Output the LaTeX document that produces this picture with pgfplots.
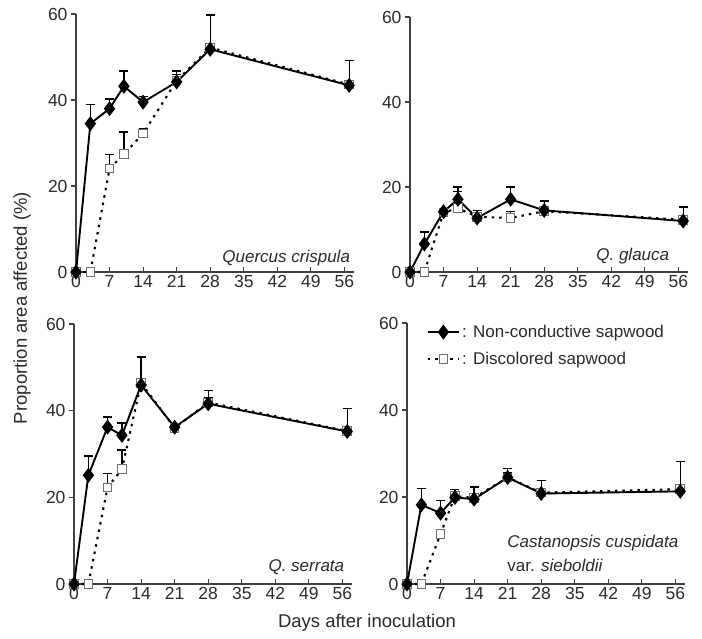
\documentclass[border=0pt]{standalone}
\usepackage{fontspec}
\setmainfont{Liberation Sans}
\usepackage{pgfplots}
\pgfplotsset{compat=1.18}
\usepackage{pgfplotstable}

\definecolor{txt}{HTML}{2A2A2A}
\definecolor{sqedge}{HTML}{6E6E6E}

% x = days, y = mean, e = upper error
\pgfplotstableread{
x y e
0 0 0
3 34.5 4.5
7 38.0 2.2
10 43.2 3.5
14 39.5 1.3
21 44.2 2.5
28 51.8 8.0
57 43.4 5.8
}\crispnon
\pgfplotstableread{
x y e
0 0 0
3 0 0
7 24.1 3.2
10 27.4 5.2
14 32.2 1.2
21 44.5 1.5
28 52.2 1.0
57 43.6 1.0
}\crispdis
\pgfplotstableread{
x y e
0 0 0
3 6.6 2.8
7 14.2 0.8
10 17.1 2.9
14 12.7 1.8
21 17.1 2.9
28 14.5 2.2
57 12.0 3.3
}\glaucanon
\pgfplotstableread{
x y e
0 0 0
3 0 0
7 14.0 0.8
10 15.0 3.9
14 13.0 1.5
21 12.7 1.5
28 14.3 1.0
57 12.3 1.0
}\glaucadis
\pgfplotstableread{
x y e
0 0 0
3 25.1 4.4
7 36.2 2.3
10 34.3 2.9
14 45.9 6.5
21 36.2 0.5
28 41.6 3.1
57 35.2 5.3
}\serratanon
\pgfplotstableread{
x y e
0 0 0
3 0 0
7 22.3 3.2
10 26.5 4.4
14 46.4 1.0
21 36.0 0.5
28 41.9 1.0
57 35.3 1.0
}\serratadis
\pgfplotstableread{
x y e
0 0 0
3 18.2 3.7
7 16.3 2.9
10 19.9 1.8
14 19.5 2.8
21 24.5 2.0
28 20.8 3.0
57 21.3 6.8
}\castnon
\pgfplotstableread{
x y e
0 0 0
3 0 0
7 11.5 1.0
10 20.2 1.0
14 19.8 1.0
21 24.5 1.0
28 21.0 1.0
57 21.8 1.0
}\castdis

\tikzset{spec/.style={font=\fontsize{17}{20}\selectfont, text=txt}}

\pgfplotsset{
  panel/.style={
    anchor=south west, scale only axis,
    width=278pt, xmin=0, xmax=58, ymin=0, ymax=60,
    axis lines=left, axis line style={-, line width=1.1pt, draw=black!75},
    xtick={0,7,...,56}, ytick={0,20,40,60},
    xtick align=inside, ytick align=outside,
    major tick length=5pt,
    tick style={line width=1.1pt, draw=black!75},
    ticklabel style={font=\fontsize{17.5}{20}\selectfont, text=txt},
    /pgf/number format/assume math mode=true,
    clip=false,
  },
  nonc/.style={black, line width=1.9pt, mark=diamond*, mark size=6pt,
    mark options={solid, fill=black},
    error bars/.cd, y dir=plus, y explicit,
    error bar style={line width=1.4pt, solid},
    error mark options={rotate=90, mark size=4.5pt, line width=1.4pt, solid}},
  disc/.style={black, line width=2.1pt, dash pattern=on 2.5pt off 5pt,
    mark=square*, mark size=4.3pt,
    mark options={solid, fill=white, draw=sqedge, line width=1pt},
    error bars/.cd, y dir=plus, y explicit,
    error bar style={line width=1.4pt, solid},
    error mark options={rotate=90, mark size=4.5pt, line width=1.4pt, solid}},
}

\begin{document}
\begin{tikzpicture}
\useasboundingbox (0,0) rectangle (702pt,-638pt);

% Quercus crispula
\begin{axis}[panel, at={(76pt,-272pt)}, height=258pt]
\addplot[disc] table[x=x, y=y, y error=e] {\crispdis};
\addplot[nonc] table[x=x, y=y, y error=e] {\crispnon};
\node[spec, anchor=base east] at (axis cs:57.9,2.1) {\itshape Quercus crispula};
\end{axis}

% Q. glauca
\begin{axis}[panel, at={(410pt,-272pt)}, height=255pt]
\addplot[disc] table[x=x, y=y, y error=e] {\glaucadis};
\addplot[nonc] table[x=x, y=y, y error=e] {\glaucanon};
\node[spec, anchor=base east] at (axis cs:54.8,2.8) {\itshape Q. glauca};
\end{axis}

% Q. serrata
\begin{axis}[panel, at={(74pt,-584pt)}, height=260pt]
\addplot[disc] table[x=x, y=y, y error=e] {\serratadis};
\addplot[nonc] table[x=x, y=y, y error=e] {\serratanon};
\node[spec, anchor=base east] at (axis cs:57.1,2.8) {\itshape Q. serrata};
\end{axis}

% Castanopsis cuspidata var. sieboldii
\begin{axis}[panel, at={(407pt,-584pt)}, height=261pt,
  reverse legend, legend cell align=left,
  legend style={at={(rel axis cs:0.07,1.0)}, anchor=north west,
    draw=none, fill=none, inner sep=0pt,
    font=\fontsize{17}{20}\selectfont, text=txt, row sep=9pt,
    /tikz/every even column/.append style={column sep=5pt}},
  legend image code/.code={\draw[mark repeat=2, mark phase=2]
    plot coordinates {(0cm,0cm) (0.55cm,0cm) (1.1cm,0cm)};}]
\addplot[disc] table[x=x, y=y, y error=e] {\castdis};
\addlegendentry{: Discolored sapwood}
\addplot[nonc] table[x=x, y=y, y error=e] {\castnon};
\addlegendentry{: Non-conductive sapwood}
\node[spec, anchor=base west] at (axis cs:20.2,8.5) {\itshape Castanopsis cuspidata};
\node[spec, anchor=base west] at (axis cs:20.2,2.8) {var. \itshape sieboldii};
\end{axis}

\node[rotate=90, font=\fontsize{18.5}{21}\selectfont, text=txt] at (22pt,-308pt) {Proportion area affected (\%)};
\node[font=\fontsize{18.5}{21}\selectfont, text=txt] at (367pt,-623pt) {Days after inoculation};
\end{tikzpicture}
\end{document}
